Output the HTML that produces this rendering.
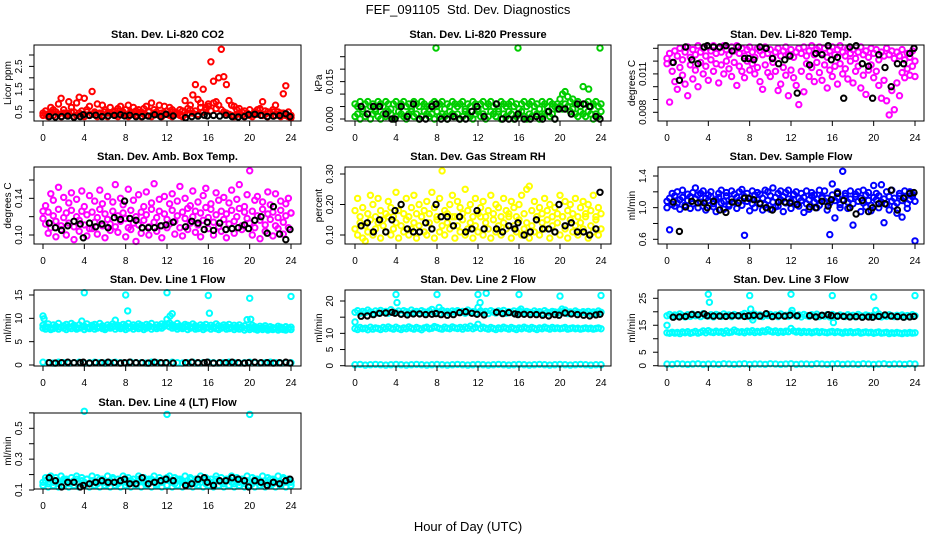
<!DOCTYPE html>
<html><head><meta charset="utf-8">
<style>
html,body{margin:0;padding:0;background:#fff;}
svg{display:block;font-family:"Liberation Sans",Arial,sans-serif;}
</style></head>
<body>
<svg id="fig" width="936" height="540" viewBox="0 0 936 540">
<text x="468" y="14" text-anchor="middle" font-size="13" xml:space="preserve">FEF_091105  Std. Dev. Diagnostics</text>
<text x="468" y="531" text-anchor="middle" font-size="13">Hour of Day (UTC)</text>
</svg>
<script>
// shared hour categories
var hrsA = [0,0.25,0.5,0.75,1,1.25,1.5,1.75,2,2.25,2.5,2.75,3,3.25,3.5,3.75,4,4.25,4.5,4.75,5,5.25,5.5,5.75,6,6.25,6.5,6.75,7,7.25,7.5,7.75,8,8.25,8.5,8.75,9,9.25,9.5,9.75,10,10.25,10.5,10.75,11,11.25,11.5,11.75,12,12.25,12.5,12.75,13,13.25,13.5,13.75,14,14.25,14.5,14.75,15,15.25,15.5,15.75,16,16.25,16.5,16.75,17,17.25,17.5,17.75,18,18.25,18.5,18.75,19,19.25,19.5,19.75,20,20.25,20.5,20.75,21,21.25,21.5,21.75,22,22.25,22.5,22.75,23,23.25,23.5,23.75,24];
var hrsB = [0,0.5,1,1.5,2,2.5,3,3.5,4,4.5,5,5.5,6,6.5,7,7.5,8,8.5,9,9.5,10,10.5,11,11.5,12,12.5,13,13.5,14,14.5,15,15.5,16,16.5,17,17.5,18,18.5,19,19.5,20,20.5,21,21.5,22,22.5,23,23.5,24];
var hrsK = [0.6,1.2,1.8,2.4,3.0,3.6,3.9,4.5,5.1,5.7,6.3,6.9,7.5,7.9,8.4,9.0,9.6,10.2,10.8,11.4,11.9,12.6,13.8,14.4,15.0,15.6,15.9,16.5,17.1,17.7,18.3,18.9,19.5,19.9,20.5,21.1,21.7,22.3,22.9,23.5,23.9];
var xTicks = [0,4,8,12,16,20,24];

// Panel 1: CO2
var co2A = [0.45,0.55,0.4,0.7,0.6,0.5,0.85,1.1,0.6,0.45,0.95,0.7,0.5,0.9,1.15,0.55,1.1,0.6,0.75,1.4,0.5,0.85,0.45,0.8,0.6,0.45,0.7,0.5,0.55,0.65,0.75,0.5,0.6,0.8,0.45,0.7,0.55,0.6,0.5,0.65,0.75,0.55,0.9,0.6,0.5,0.8,0.45,0.75,0.55,0.7,0.6,0.5,0.45,0.6,0.55,1.0,0.65,0.8,1.25,1.7,1.05,0.9,1.5,0.7,0.85,2.7,1.85,0.95,2.0,3.25,2.05,1.7,1.0,0.8,0.75,0.6,0.65,0.5,0.55,0.45,0.6,0.4,0.5,0.6,0.65,0.95,0.55,0.5,0.45,0.6,0.8,0.5,0.45,1.3,1.65,0.5,0.35];
var co2B = [0.35,0.4,0.3,0.45,0.35,0.5,0.4,0.3,0.45,0.35,0.4,0.5,0.3,0.35,0.45,0.4,0.3,0.5,0.35,0.4,0.45,0.3,0.4,0.35,0.5,0.3,0.45,0.4,0.35,0.3,0.4,0.45,0.35,0.3,0.5,0.4,0.35,0.45,0.3,0.4,0.35,0.5,0.3,0.45,0.4,0.35,0.3,0.45,0.4,0.35,0.3,0.4,0.45,0.35,0.3,0.5,0.4,0.6,0.45,0.55,0.4,0.7,0.5,0.6,0.75,0.55,0.9,0.65,0.8,0.6,0.5,0.45,0.4,0.35,0.3,0.4,0.45,0.35,0.3,0.4,0.35,0.3,0.45,0.4,0.6,0.35,0.4,0.3,0.45,0.5,0.35,0.4,0.3,0.45,0.35,0.3,0.25];
var co2K = [0.3,0.28,0.3,0.32,0.27,0.3,0.38,0.35,0.36,0.3,0.33,0.35,0.38,0.33,0.36,0.3,0.3,0.32,0.38,0.3,0.4,0.33,0.25,0.3,0.32,0.36,0.33,0.35,0.32,0.36,0.3,0.28,0.3,0.38,0.4,0.35,0.3,0.32,0.34,0.42,0.3];

// Panel 2: pressure
var presA = [0.006,0.005,0.007,0.004,0.006,0.007,0.005,0.006,0.004,0.007,0.006,0.005,0.007,0.006,0.004,0.006,0.007,0.005,0.006,0.007,0.005,0.006,0.004,0.007,0.006,0.005,0.007,0.006,0.005,0.004,0.006,0.007,0.005,0.006,0.007,0.004,0.006,0.005,0.007,0.006,0.005,0.006,0.007,0.004,0.006,0.005,0.007,0.006,0.004,0.006,0.007,0.005,0.006,0.007,0.005,0.006,0.004,0.007,0.006,0.005,0.006,0.007,0.005,0.006,0.004,0.006,0.007,0.005,0.006,0.007,0.005,0.006,0.004,0.007,0.006,0.005,0.007,0.006,0.005,0.006,0.008,0.010,0.011,0.009,0.007,0.008,0.006,0.007,0.005,0.013,0.006,0.007,0.005,0.006,0.007,0.005,0.006];
var presB = [0.001,0.002,0.000,0.003,0.001,0.002,0.000,0.002,0.003,0.001,0.000,0.002,0.001,0.003,0.002,0.000,0.001,0.003,0.002,0.001,0.000,0.002,0.003,0.001,0.002,0.000,0.001,0.003,0.002,0.001,0.002,0.000,0.003,0.001,0.002,0.001,0.000,0.003,0.002,0.001,0.002,0.000,0.001,0.003,0.002,0.001,0.000,0.002,0.003,0.001,0.002,0.000,0.001,0.003,0.002,0.001,0.003,0.000,0.002,0.001,0.003,0.002,0.000,0.001,0.002,0.003,0.001,0.000,0.002,0.001,0.003,0.002,0.000,0.001,0.002,0.003,0.001,0.002,0.000,0.004,0.005,0.004,0.006,0.005,0.003,0.004,0.002,0.001,0.003,0.002,0.001,0.003,0.002,0.000,0.002,0.001,0.003];
var presOutH = [7.9,15.9,23.9,22.8];
var presOutV = [0.0285,0.0285,0.0285,0.012];
var presK = [0.005,0.002,0.005,0.005,0.002,0.000,0.000,0.005,0.001,0.006,0.000,0.000,0.005,0.006,0.000,0.000,0.001,0.000,0.000,0.003,0.005,0.001,0.006,0.000,0.000,0.000,0.002,0.000,0.000,0.001,0.000,0.003,0.000,0.004,0.004,0.002,0.006,0.006,0.005,0.001,0.000];

// Panel 3: Li-820 temp
var tmpA = [0.0122,0.0126,0.0119,0.0128,0.0124,0.0130,0.0121,0.0127,0.0131,0.0123,0.0129,0.0125,0.0132,0.0127,0.0130,0.0124,0.0131,0.0128,0.0132,0.0126,0.0130,0.0127,0.0132,0.0129,0.0125,0.0131,0.0128,0.0132,0.0126,0.0130,0.0124,0.0129,0.0131,0.0127,0.0123,0.0130,0.0128,0.0125,0.0131,0.0126,0.0129,0.0122,0.0127,0.0130,0.0124,0.0128,0.0131,0.0125,0.0129,0.0123,0.0127,0.0130,0.0126,0.0131,0.0124,0.0128,0.0132,0.0125,0.0129,0.0131,0.0126,0.0130,0.0123,0.0128,0.0131,0.0125,0.0129,0.0132,0.0127,0.0124,0.0130,0.0126,0.0129,0.0122,0.0127,0.0131,0.0125,0.0128,0.0123,0.0130,0.0126,0.0129,0.0121,0.0127,0.0124,0.0130,0.0125,0.0128,0.0122,0.0127,0.0124,0.0129,0.0121,0.0126,0.0123,0.0128,0.0120];
var tmpB = [0.0118,0.0088,0.0112,0.0104,0.0098,0.0115,0.0109,0.0102,0.0093,0.0117,0.0106,0.0113,0.0100,0.0119,0.0110,0.0116,0.0105,0.0121,0.0112,0.0118,0.0103,0.0117,0.0110,0.0120,0.0114,0.0108,0.0119,0.0101,0.0116,0.0112,0.0107,0.0120,0.0113,0.0118,0.0110,0.0115,0.0104,0.0098,0.0117,0.0111,0.0108,0.0119,0.0112,0.0097,0.0102,0.0115,0.0109,0.0093,0.0113,0.0107,0.0101,0.0086,0.0112,0.0096,0.0118,0.0108,0.0115,0.0104,0.0119,0.0111,0.0105,0.0117,0.0099,0.0113,0.0108,0.0116,0.0102,0.0118,0.0110,0.0114,0.0106,0.0120,0.0103,0.0112,0.0116,0.0099,0.0109,0.0094,0.0113,0.0117,0.0107,0.0112,0.0101,0.0091,0.0105,0.0089,0.0078,0.0097,0.0082,0.0103,0.0093,0.0111,0.0107,0.0114,0.0109,0.0116,0.0108];
var tmpK = [0.0119,0.0105,0.0131,0.0121,0.0118,0.0131,0.0132,0.0131,0.0131,0.0132,0.0128,0.0131,0.0122,0.0122,0.0121,0.0131,0.0130,0.0122,0.0118,0.0121,0.0124,0.0095,0.0117,0.0126,0.0125,0.0132,0.0121,0.0123,0.0091,0.0131,0.0132,0.0118,0.0116,0.0091,0.0125,0.0115,0.0100,0.0118,0.0118,0.0126,0.0130];

// Panel 4: ambient box temp
var ambA = [0.118,0.112,0.125,0.108,0.121,0.115,0.128,0.110,0.119,0.124,0.113,0.127,0.109,0.120,0.116,0.126,0.111,0.122,0.107,0.125,0.114,0.119,0.128,0.110,0.123,0.117,0.112,0.126,0.109,0.121,0.115,0.124,0.118,0.108,0.127,0.113,0.120,0.111,0.125,0.116,0.122,0.109,0.128,0.114,0.119,0.126,0.110,0.123,0.117,0.112,0.127,0.115,0.121,0.108,0.125,0.118,0.129,0.113,0.120,0.126,0.111,0.124,0.116,0.130,0.119,0.128,0.114,0.122,0.109,0.126,0.117,0.123,0.112,0.127,0.115,0.120,0.129,0.110,0.125,0.118,0.113,0.126,0.108,0.121,0.116,0.128,0.111,0.123,0.117,0.125,0.110,0.119,0.127,0.114,0.121,0.108,0.124];
var ambB = [0.126,0.132,0.102,0.145,0.138,0.098,0.152,0.106,0.141,0.100,0.135,0.146,0.095,0.139,0.104,0.148,0.131,0.099,0.143,0.107,0.137,0.101,0.149,0.134,0.097,0.142,0.105,0.136,0.155,0.103,0.140,0.133,0.098,0.150,0.106,0.138,0.093,0.144,0.102,0.131,0.147,0.100,0.135,0.156,0.104,0.139,0.097,0.142,0.108,0.134,0.145,0.101,0.137,0.153,0.099,0.140,0.106,0.132,0.148,0.103,0.136,0.098,0.143,0.151,0.107,0.134,0.100,0.146,0.138,0.104,0.141,0.097,0.135,0.149,0.102,0.139,0.155,0.106,0.131,0.144,0.170,0.100,0.138,0.142,0.096,0.136,0.104,0.147,0.133,0.099,0.145,0.107,0.137,0.101,0.134,0.140,0.124];
var ambK = [0.113,0.108,0.105,0.110,0.115,0.112,0.097,0.113,0.109,0.112,0.108,0.119,0.117,0.137,0.118,0.116,0.108,0.108,0.108,0.110,0.111,0.114,0.109,0.115,0.113,0.106,0.114,0.105,0.113,0.106,0.107,0.108,0.111,0.107,0.116,0.120,0.102,0.131,0.101,0.095,0.106];

// Panel 5: gas stream RH
var rhA = [0.12,0.10,0.14,0.09,0.13,0.11,0.15,0.10,0.12,0.14,0.09,0.13,0.11,0.16,0.10,0.12,0.14,0.09,0.13,0.11,0.15,0.10,0.12,0.14,0.09,0.13,0.16,0.11,0.10,0.14,0.12,0.09,0.15,0.11,0.13,0.10,0.14,0.12,0.16,0.09,0.13,0.11,0.15,0.10,0.12,0.14,0.09,0.13,0.11,0.16,0.10,0.14,0.12,0.09,0.15,0.11,0.13,0.10,0.14,0.12,0.16,0.09,0.13,0.11,0.15,0.10,0.12,0.14,0.09,0.13,0.11,0.16,0.10,0.14,0.12,0.15,0.09,0.13,0.11,0.14,0.10,0.16,0.12,0.09,0.15,0.11,0.13,0.10,0.14,0.12,0.16,0.09,0.13,0.11,0.15,0.10,0.12];
var rhB = [0.18,0.22,0.16,0.19,0.08,0.17,0.23,0.20,0.16,0.22,0.18,0.15,0.17,0.21,0.19,0.16,0.24,0.18,0.20,0.17,0.22,0.16,0.19,0.23,0.17,0.20,0.16,0.18,0.21,0.17,0.24,0.19,0.16,0.22,0.31,0.18,0.17,0.20,0.23,0.16,0.21,0.19,0.17,0.25,0.18,0.20,0.16,0.22,0.17,0.19,0.21,0.16,0.18,0.23,0.17,0.20,0.19,0.16,0.22,0.18,0.17,0.21,0.19,0.16,0.20,0.23,0.17,0.25,0.26,0.18,0.21,0.16,0.19,0.17,0.22,0.18,0.20,0.16,0.19,0.17,0.23,0.16,0.21,0.18,0.20,0.17,0.22,0.16,0.19,0.21,0.17,0.20,0.18,0.23,0.16,0.19,0.17];
var rhK = [0.13,0.14,0.11,0.15,0.11,0.15,0.18,0.20,0.12,0.11,0.11,0.14,0.12,0.20,0.16,0.16,0.13,0.16,0.11,0.12,0.18,0.12,0.12,0.11,0.13,0.12,0.14,0.10,0.11,0.15,0.12,0.12,0.11,0.20,0.13,0.14,0.11,0.11,0.10,0.12,0.24];

// Panel 6: sample flow
var sfA = [1.08,1.12,1.04,1.15,1.06,1.10,1.13,1.03,1.09,1.14,1.05,1.11,1.16,1.07,1.02,1.12,1.09,1.14,1.05,1.10,1.13,1.06,1.08,1.15,1.04,1.11,1.07,1.13,1.09,1.03,1.14,1.08,1.11,1.05,1.16,1.10,1.06,1.12,1.04,1.09,1.15,1.07,1.13,1.02,1.10,1.14,1.06,1.11,1.08,1.16,1.04,1.12,1.09,1.13,1.05,1.10,1.15,1.07,1.11,1.03,1.14,1.08,1.12,1.06,1.16,1.09,1.13,1.04,1.10,1.15,1.07,1.11,1.05,1.14,1.08,1.12,1.06,1.16,1.09,1.03,1.13,1.10,1.15,1.07,1.11,1.04,1.14,1.08,1.12,1.06,1.15,1.09,1.13,1.05,1.10,1.14,1.08];
var sfB = [1.00,0.72,1.18,1.02,1.20,0.98,1.22,1.01,1.17,0.99,1.19,1.25,1.00,1.18,1.21,0.97,1.16,1.20,1.01,0.95,1.18,1.22,0.98,1.19,1.02,1.21,1.17,0.99,1.20,1.23,0.65,1.18,0.96,1.21,1.00,1.19,1.17,0.97,1.22,1.20,0.98,1.25,1.01,1.18,1.21,0.95,1.19,1.22,0.99,1.17,1.20,1.02,1.18,0.94,1.21,0.98,1.19,1.16,1.00,1.22,1.12,1.21,0.97,0.66,1.30,0.87,1.20,1.00,1.46,1.18,0.99,1.21,0.78,1.17,1.20,0.95,1.22,1.01,1.19,0.96,1.28,1.18,1.00,1.29,0.81,1.20,0.97,1.22,1.02,0.93,1.18,0.88,1.21,0.99,1.20,1.17,0.58];
var sfK = [1.07,0.70,1.01,1.08,1.06,1.06,1.00,1.08,0.97,0.94,1.07,1.06,1.12,1.12,1.10,1.05,1.00,0.97,1.07,1.07,1.06,1.04,1.01,1.00,1.08,1.02,1.10,1.18,1.09,1.00,0.92,1.09,0.95,1.00,1.05,1.05,1.22,0.97,1.12,1.18,1.19];

// Panel 7: line 1 flow
var l1A = [8.5,8.2,8.8,8.0,8.6,8.3,8.9,8.1,8.4,8.7,8.2,8.9,8.5,8.0,8.6,9.4,8.3,8.8,8.1,8.5,8.7,8.2,8.9,8.4,8.0,8.6,8.3,8.8,9.6,8.5,8.2,8.7,8.4,8.9,8.1,8.6,8.3,8.8,8.5,8.2,8.7,8.4,8.9,8.1,8.6,8.3,8.8,8.5,9.8,9.0,8.6,8.3,8.9,8.4,8.1,8.7,8.5,8.2,8.8,8.4,8.0,8.6,8.3,8.7,8.1,8.5,8.2,8.8,8.4,8.0,8.6,8.3,8.7,8.1,8.5,8.2,8.6,8.0,8.4,9.7,8.1,8.5,8.2,7.9,8.3,8.0,8.4,7.8,8.2,8.0,7.9,8.3,8.1,7.8,8.2,7.9,8.1];
var l1B = [7.9,7.7,8.1,7.6,7.8,8.0,7.7,8.1,7.9,7.6,8.0,7.8,8.2,7.7,7.9,8.1,7.6,8.0,7.8,8.2,7.7,7.9,8.1,7.8,7.6,8.0,7.9,8.2,7.7,8.1,7.8,8.0,7.6,7.9,8.2,7.7,8.1,7.8,8.0,7.6,7.9,8.2,7.7,8.1,7.8,8.0,7.9,8.3,8.8,8.2,7.9,8.1,7.7,8.0,7.8,8.2,7.6,7.9,8.1,7.7,7.8,8.0,7.6,7.9,8.1,7.7,8.0,7.8,7.6,7.9,8.1,7.7,7.8,8.0,7.6,7.9,7.7,8.1,7.5,7.8,7.6,7.9,7.7,7.5,7.8,7.6,7.9,7.5,7.7,7.6,7.8,7.5,7.7,7.6,7.5,7.8,7.6];
var l1Z = [0.6,0.5,0.4,0.6,0.5,0.4,0.5,0.6,0.4,0.5,0.6,0.5,0.4,0.5,0.6,0.5,0.4,0.6,0.5,0.5,0.4,0.6,0.5,0.4,0.5,0.6,0.5,0.4,0.5,0.6,0.4,0.5,0.6,0.5,0.4,0.5,0.6,0.5,0.4,0.5,0.6,0.5,0.4,0.5,0.6,0.5,0.4,0.5,0.5];
var l1OutH = [0,0.1,4,8,8.2,12,12.3,12.5,16,16.1,20,20.1,24];
var l1OutV = [10.5,9.9,15.5,15,11.6,15.5,10.5,11,14.9,11.1,14.3,9.8,14.7];
var l1K = [0.5,0.4,0.5,0.6,0.5,0.5,0.6,0.4,0.5,0.5,0.6,0.5,0.4,0.5,0.6,0.5,0.5,0.4,0.6,0.5,0.5,0.4,0.5,0.6,0.5,0.5,0.6,0.4,0.5,0.5,0.6,0.5,0.4,0.5,0.6,0.5,0.5,0.4,0.5,0.6,0.4];

// Panel 8: line 2 flow
var l2A = [16.5,17.0,16.2,16.8,16.4,17.2,16.6,16.1,16.9,16.3,17.1,16.5,16.8,16.2,17.3,16.6,16.4,16.9,16.1,17.0,16.7,16.3,17.2,16.5,16.8,16.2,17.0,16.6,16.4,16.9,17.4,16.3,16.7,16.1,17.1,16.5,16.8,16.2,16.9,16.6,17.0,16.4,16.8,16.2,17.2,16.5,16.7,16.3,18.0,16.9,16.4,16.8,16.1,17.0,16.6,16.3,16.9,16.5,17.1,16.2,16.7,16.4,16.9,16.1,17.0,16.6,16.3,16.8,16.5,16.2,16.9,16.4,16.7,16.1,17.0,16.5,16.3,16.8,16.6,16.2,16.8,16.4,17.2,16.1,16.6,16.3,16.9,16.5,16.2,16.7,16.4,16.8,16.1,16.6,16.3,16.9,16.5];
var l2B = [11.5,11.2,11.8,11.4,11.6,11.1,11.9,11.3,11.7,11.5,11.2,11.8,11.4,12.0,11.6,11.3,11.9,11.5,11.2,11.7,11.4,12.0,11.6,11.3,11.8,11.5,11.1,11.7,11.9,11.4,11.6,12.1,11.8,11.5,11.3,11.9,11.6,11.4,12.0,11.7,11.5,11.8,11.3,11.9,11.6,12.2,11.4,11.8,12.8,11.5,11.9,11.6,11.3,11.8,11.5,11.2,11.7,11.4,11.9,11.6,11.3,11.8,11.5,11.2,11.7,11.4,11.9,11.6,11.3,11.8,11.5,11.2,11.7,11.4,11.9,11.6,11.3,11.8,11.5,11.7,11.4,11.6,11.8,11.3,11.5,11.7,11.4,11.6,11.3,11.5,11.7,11.4,11.6,11.3,11.5,11.7,11.4];
var l2Z = [0.3,0.4,0.2,0.3,0.4,0.3,0.2,0.3,0.4,0.3,0.2,0.3,0.4,0.3,0.2,0.3,0.4,0.3,0.2,0.3,0.4,0.3,0.2,0.3,0.4,0.3,0.2,0.3,0.4,0.3,0.2,0.3,0.4,0.3,0.2,0.3,0.4,0.3,0.2,0.3,0.4,0.3,0.2,0.3,0.4,0.3,0.2,0.3,0.3];
var l2OutH = [0,4,4.1,8,8.2,12,12.2,12.8,16,16.2,20,20.2,24];
var l2OutV = [13.5,22,19.5,22,18,22,19.5,22.4,22,17.5,21.5,17.5,21.7];
var l2K = [15.3,15.4,15.8,16.2,16.3,16.5,16.2,15.9,15.7,16.0,16.0,15.8,15.9,16.1,15.8,15.6,15.8,16.4,16.7,16.2,15.9,15.7,16.5,16.1,16.4,16.0,15.8,15.9,15.8,15.8,15.6,15.4,15.8,15.6,16.3,16.0,15.8,15.6,15.4,15.7,15.9];

// Panel 9: line 3 flow
var l3A = [18.5,19.0,18.2,18.8,18.4,19.2,18.6,18.1,18.9,18.3,19.1,18.5,18.8,18.2,19.3,18.6,18.4,18.9,18.1,19.0,18.7,18.3,19.2,18.5,18.8,18.2,19.0,18.6,18.4,18.9,19.4,18.3,18.7,18.1,19.1,18.5,18.8,18.2,18.9,18.6,19.0,18.4,18.8,18.2,19.2,18.5,18.7,18.3,19.5,18.9,18.4,18.8,18.1,19.0,18.6,18.3,18.9,18.5,19.1,18.2,18.7,18.4,18.9,18.1,19.0,18.6,18.3,18.8,18.5,18.2,18.9,18.4,18.7,18.1,19.0,18.5,18.3,18.8,18.6,18.2,18.8,18.4,19.2,18.1,18.6,18.3,18.9,18.5,18.2,18.7,18.4,18.8,18.1,18.6,18.3,18.9,18.5];
var l3B = [12.2,12.0,12.4,12.1,12.3,11.9,12.5,12.2,12.6,12.0,12.3,12.7,12.1,12.4,12.9,12.2,13.0,12.5,12.3,12.8,12.4,12.6,12.1,12.9,12.3,12.5,13.2,12.7,12.4,12.6,12.2,12.8,12.5,13.0,12.3,12.7,12.4,12.9,12.6,13.3,12.8,12.5,12.9,12.3,12.7,12.4,12.8,12.6,13.8,12.9,12.5,12.8,12.3,12.7,12.4,12.6,12.2,12.5,12.7,12.3,12.6,12.4,12.2,12.5,12.7,12.3,12.6,12.4,12.1,12.5,12.3,12.6,12.2,12.4,12.6,12.1,12.3,12.5,12.2,12.4,12.0,12.3,12.5,12.1,12.2,12.4,11.9,12.2,12.0,12.3,12.1,11.9,12.2,12.0,12.3,12.1,12.2];
var l3Z = [0.6,0.5,0.7,0.6,0.5,0.6,0.7,0.5,0.6,0.6,0.5,0.7,0.6,0.5,0.6,0.7,0.5,0.6,0.6,0.5,0.7,0.6,0.5,0.6,0.7,0.5,0.6,0.6,0.5,0.7,0.6,0.5,0.6,0.7,0.5,0.6,0.6,0.5,0.7,0.6,0.5,0.6,0.7,0.5,0.6,0.6,0.5,0.7,0.6];
var l3OutH = [0,4,4.1,8,8.1,8.3,12,12.1,16,16.1,20,20.2,24];
var l3OutV = [15,26.5,23.5,26,21,17,26.5,20.5,26,16,25.5,20.5,26];
var l3K = [18.0,18.1,18.3,19.0,18.9,19.2,18.5,18.4,18.4,18.3,18.5,18.5,18.3,18.5,18.7,18.4,19.3,18.2,18.5,18.4,18.7,18.5,18.6,18.1,18.7,18.9,18.6,18.4,18.3,18.1,18.2,18.0,18.1,18.0,18.3,18.8,18.4,18.2,18.0,18.1,18.3];

// Panel 10: line 4 (LT) flow
var l4A = [0.15,0.16,0.14,0.17,0.15,0.16,0.14,0.15,0.17,0.16,0.14,0.15,0.16,0.17,0.14,0.16,0.15,0.17,0.14,0.16,0.15,0.14,0.17,0.16,0.15,0.14,0.16,0.17,0.15,0.14,0.16,0.15,0.17,0.14,0.16,0.15,0.14,0.17,0.16,0.15,0.14,0.16,0.17,0.15,0.14,0.16,0.15,0.17,0.18,0.16,0.15,0.14,0.17,0.16,0.15,0.14,0.16,0.17,0.15,0.14,0.16,0.15,0.17,0.14,0.16,0.15,0.14,0.17,0.16,0.15,0.14,0.16,0.17,0.15,0.14,0.16,0.15,0.17,0.14,0.16,0.15,0.14,0.17,0.16,0.15,0.14,0.16,0.15,0.17,0.14,0.16,0.15,0.14,0.17,0.15,0.16,0.15];
var l4B = [0.13,0.18,0.12,0.19,0.13,0.18,0.12,0.19,0.13,0.17,0.12,0.18,0.13,0.19,0.12,0.18,0.13,0.17,0.12,0.19,0.13,0.18,0.12,0.17,0.13,0.19,0.12,0.18,0.13,0.17,0.12,0.19,0.13,0.18,0.12,0.17,0.13,0.19,0.12,0.18,0.13,0.17,0.12,0.19,0.13,0.18,0.12,0.17,0.13,0.19,0.12,0.18,0.13,0.17,0.12,0.19,0.13,0.18,0.12,0.17,0.13,0.19,0.12,0.18,0.13,0.17,0.12,0.19,0.13,0.18,0.12,0.17,0.13,0.19,0.12,0.18,0.13,0.17,0.12,0.19,0.13,0.18,0.12,0.17,0.13,0.19,0.12,0.18,0.13,0.17,0.12,0.19,0.13,0.18,0.12,0.17,0.13];
var l4OutH = [4,12,20];
var l4OutV = [0.61,0.59,0.59];
var l4K = [0.18,0.16,0.12,0.15,0.15,0.12,0.13,0.14,0.15,0.16,0.15,0.15,0.16,0.17,0.14,0.14,0.18,0.14,0.15,0.16,0.17,0.16,0.13,0.14,0.17,0.18,0.15,0.13,0.16,0.16,0.18,0.17,0.16,0.12,0.16,0.15,0.13,0.15,0.14,0.16,0.17];

// tick values and labels
var p1Ticks=[0.5,1,1.5,2,2.5,3], p1Labels=["0.5","","1.5","","2.5",""];
var p2Ticks=[0,0.005,0.01,0.015,0.02,0.025], p2Labels=["0.000","","","0.015","",""];
var p3Ticks=[0.008,0.009,0.010,0.011,0.012,0.013], p3Labels=["0.008","","","0.011","",""];
var p4Ticks=[0.10,0.12,0.14,0.16], p4Labels=["0.10","","0.14",""];
var p5Ticks=[0.10,0.20,0.30], p5Labels=["0.10","0.20","0.30"];
var p6Ticks=[0.6,0.8,1.0,1.2,1.4], p6Labels=["0.6","","1.0","","1.4"];
var p7Ticks=[0,5,10,15], p7Labels=["0","5","10","15"];
var p8Ticks=[0,5,10,15,20], p8Labels=["0","5","10","","20"];
var p9Ticks=[0,5,10,15,20,25], p9Labels=["0","5","","15","","25"];
var p10Ticks=[0.1,0.2,0.3,0.4,0.5,0.6], p10Labels=["0.1","","0.3","","0.5",""];

var NS="http://www.w3.org/2000/svg";
var svg=document.getElementById('fig');
function mk(tag,attrs,parent){var e=document.createElementNS(NS,tag);for(var k in attrs)e.setAttribute(k,attrs[k]);(parent||svg).appendChild(e);return e;}

// layout (pixel geometry, not data)
var cols=[{l:34,r:301,x0:43,x24:291},{l:345,r:611,x0:355,x24:601},{l:658,r:924,x0:667,x24:915}];
var rows=[{t:45,b:121},{t:167,b:244},{t:290,b:366},{t:413,b:489}];

var panels=[
 {key:'co2',title:'Stan. Dev. Li-820 CO2',ylab:'Licor ppm',c:0,r:0,ref:[0.5,112,3,55],ticks:p1Ticks,labels:p1Labels,
  series:[[hrsA,co2B,'#ff0000'],[hrsA,co2A,'#ff0000'],[hrsK,co2K,'#000000']]},
 {key:'pressure',title:'Stan. Dev. Li-820 Pressure',ylab:'kPa',c:1,r:0,ref:[0,119,0.025,56.7],ticks:p2Ticks,labels:p2Labels,
  series:[[hrsA,presA,'#00cd00'],[hrsA,presB,'#00cd00'],[presOutH,presOutV,'#00cd00'],[hrsK,presK,'#000000']]},
 {key:'li820-temp',title:'Stan. Dev. Li-820 Temp.',ylab:'degrees C',c:2,r:0,ref:[0.008,112.3,0.013,48.3],ticks:p3Ticks,labels:p3Labels,
  series:[[hrsA,tmpB,'#ff00ff'],[hrsA,tmpA,'#ff00ff'],[hrsK,tmpK,'#000000']]},
 {key:'amb-box-temp',title:'Stan. Dev. Amb. Box Temp.',ylab:'degrees C',c:0,r:1,ref:[0.10,235,0.16,180],ticks:p4Ticks,labels:p4Labels,
  series:[[hrsA,ambB,'#ff00ff'],[hrsA,ambA,'#ff00ff'],[hrsK,ambK,'#000000']]},
 {key:'gas-stream-rh',title:'Stan. Dev. Gas Stream RH',ylab:'percent',c:1,r:1,ref:[0.10,235,0.30,174],ticks:p5Ticks,labels:p5Labels,
  series:[[hrsA,rhB,'#ffff00'],[hrsA,rhA,'#ffff00'],[hrsK,rhK,'#000000']]},
 {key:'sample-flow',title:'Stan. Dev. Sample Flow',ylab:'ml/min',c:2,r:1,ref:[0.6,239.3,1.4,176],ticks:p6Ticks,labels:p6Labels,
  series:[[hrsA,sfB,'#0000ff'],[hrsA,sfA,'#0000ff'],[hrsK,sfK,'#000000']]},
 {key:'line1-flow',title:'Stan. Dev. Line 1 Flow',ylab:'ml/min',c:0,r:2,ref:[0,365,15,295],ticks:p7Ticks,labels:p7Labels,
  series:[[hrsA,l1A,'#00ffff'],[hrsA,l1B,'#00ffff'],[hrsB,l1Z,'#00ffff'],[l1OutH,l1OutV,'#00ffff'],[hrsK,l1K,'#000000']]},
 {key:'line2-flow',title:'Stan. Dev. Line 2 Flow',ylab:'ml/min',c:1,r:2,ref:[0,365.7,20,301],ticks:p8Ticks,labels:p8Labels,
  series:[[hrsA,l2A,'#00ffff'],[hrsA,l2B,'#00ffff'],[hrsB,l2Z,'#00ffff'],[l2OutH,l2OutV,'#00ffff'],[hrsK,l2K,'#000000']]},
 {key:'line3-flow',title:'Stan. Dev. Line 3 Flow',ylab:'ml/min',c:2,r:2,ref:[0,365.7,25,298.3],ticks:p9Ticks,labels:p9Labels,
  series:[[hrsA,l3A,'#00ffff'],[hrsA,l3B,'#00ffff'],[hrsB,l3Z,'#00ffff'],[l3OutH,l3OutV,'#00ffff'],[hrsK,l3K,'#000000']]},
 {key:'line4-flow',title:'Stan. Dev. Line 4 (LT) Flow',ylab:'ml/min',c:0,r:3,ref:[0.1,490,0.5,428.3],ticks:p10Ticks,labels:p10Labels,
  series:[[hrsA,l4A,'#00ffff'],[hrsA,l4B,'#00ffff'],[l4OutH,l4OutV,'#00ffff'],[hrsK,l4K,'#000000']]}
];

panels.forEach(function(p){
  var C=cols[p.c],R=rows[p.r];
  var g=mk('g',{});
  
  
  var xs=function(h){return C.x0+h*(C.x24-C.x0)/24;};
  var ys=function(v){return p.ref[1]+(v-p.ref[0])*(p.ref[3]-p.ref[1])/(p.ref[2]-p.ref[0]);};
  var cx=(C.l+C.r)/2;
  var t=mk('text',{x:cx,y:R.t-7,'text-anchor':'middle','font-size':11,'font-weight':'bold'},g);
  t.textContent=p.title;
  
  
  var pg=mk('g',{fill:'none','stroke-width':2},g);
  
  
  p.series.forEach(function(s){
    var H=s[0],V=s[1],n=Math.min(H.length,V.length);
    for(var i=0;i<n;i++){
      var c=mk('circle',{cx:xs(H[i]).toFixed(1),cy:ys(V[i]).toFixed(1),r:2.7,stroke:s[2]},pg);
      
      
    }
  });
  var b=mk('rect',{x:C.l,y:R.t,width:C.r-C.l,height:R.b-R.t,fill:'none',stroke:'#000','stroke-width':1},g);
  
  
  var xa=mk('g',{stroke:'#000','stroke-width':1},g);
  
  
  mk('line',{x1:xs(xTicks[0]),x2:xs(xTicks[xTicks.length-1]),y1:R.b,y2:R.b},xa);
  xTicks.forEach(function(h){
    mk('line',{x1:xs(h),x2:xs(h),y1:R.b,y2:R.b+5},xa);
    var tl=mk('text',{x:xs(h),y:R.b+20,'text-anchor':'middle','font-size':10,stroke:'none',fill:'#000'},xa);
    tl.textContent=h;
    
    
  });
  var ya=mk('g',{stroke:'#000','stroke-width':1},g);
  
  
  mk('line',{x1:C.l,x2:C.l,y1:ys(p.ticks[0]),y2:ys(p.ticks[p.ticks.length-1])},ya);
  p.ticks.forEach(function(v,i){
    var y=ys(v);
    mk('line',{x1:C.l-5,x2:C.l,y1:y,y2:y},ya);
    if(p.labels[i]){
      var lx=C.l-12;
      var tl=mk('text',{x:lx,y:y,'text-anchor':'middle','font-size':10,stroke:'none',fill:'#000',transform:'rotate(-90 '+lx+' '+y+')'},ya);
      tl.textContent=p.labels[i];
      
      
    }
  });
  var yl=C.l-23, ym=(R.t+R.b)/2;
  var lab=mk('text',{x:yl,y:ym,'text-anchor':'middle','font-size':10,transform:'rotate(-90 '+yl+' '+ym+')'},g);
  lab.textContent=p.ylab;
  
  
});
</script>
</body></html>
